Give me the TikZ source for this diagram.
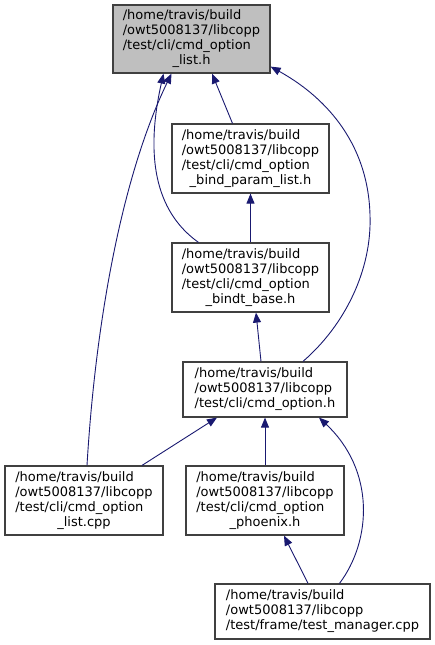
\documentclass[tikz,border=0pt]{standalone}
\usepackage{fontspec}
\setmainfont{DejaVu Sans}
\usepackage{tikz}
\usetikzlibrary{arrows.meta, calc}
\definecolor{edgeblue}{HTML}{191970}
\definecolor{boxline}{HTML}{404040}
\definecolor{focusfill}{HTML}{BFBFBF}
\newcommand{\lastrow}[1]{\multicolumn{1}{@{}c@{}}{#1}}
\newcommand{\fileset}[1]{\begin{tabular}{@{}l@{}}#1\end{tabular}}

\begin{document}
\begin{tikzpicture}[
  x=1pt, y=-1pt,
  file/.style={rectangle, draw=boxline, line width=1.2pt, fill=white,
    inner sep=0pt, minimum width=157pt, minimum height=69pt,
    font=\fontsize{13}{15}\selectfont},
  focus/.style={file, fill=focusfill},
  incl/.style={draw=edgeblue, line width=0.9pt,
    -{Triangle[length=10pt, width=8pt]}},
]
  \useasboundingbox (0,0) rectangle (435,645);

  % Top file
  \node[focus, minimum height=68pt] (list) at (191.5,39)
    {\fileset{/home/travis/build\\/owt5008137/libcopp\\/test/cli/cmd\_option\\\lastrow{\_list.h}}};

  % Middle chain
  \node[file] (param) at (250.5,158.5)
    {\fileset{/home/travis/build\\/owt5008137/libcopp\\/test/cli/cmd\_option\\\lastrow{\_bind\_param\_list.h}}};
  \node[file] (base) at (250.5,277.5)
    {\fileset{/home/travis/build\\/owt5008137/libcopp\\/test/cli/cmd\_option\\\lastrow{\_bindt\_base.h}}};
  \node[file, minimum width=164pt, minimum height=55pt] (option) at (265,389.5)
    {\fileset{/home/travis/build\\/owt5008137/libcopp\\/test/cli/cmd\_option.h}};

  % Lower files
  \node[file, minimum width=158pt] (listcpp) at (84,500.5)
    {\fileset{/home/travis/build\\/owt5008137/libcopp\\/test/cli/cmd\_option\\\lastrow{\_list.cpp}}};
  \node[file, minimum width=158pt] (phoenix) at (265,500.5)
    {\fileset{/home/travis/build\\/owt5008137/libcopp\\/test/cli/cmd\_option\\\lastrow{\_phoenix.h}}};
  \node[file, minimum width=215pt, minimum height=55pt] (manager) at (322.5,611.5)
    {\fileset{/home/travis/build\\/owt5008137/libcopp\\/test/frame/test\_manager.cpp}};

  % Includes of the top file
  \draw[incl] ($(param.north)+(-18,0)$) -- ($(list.south)+(20.5,0)$);
  \draw[incl] ($(base.north)+(-52,0)$) .. controls (160,215) and (143,165) .. ($(list.south)+(-28,0)$);
  \draw[incl] ($(listcpp.north)+(3,0)$) .. controls (95,330) and (120,180) .. ($(list.south)+(-20,0)$);
  \draw[incl] ($(option.north)+(38,0)$) .. controls (345,325) and (372,270) .. (370,215)
    .. controls (368,140) and (322,95) .. ($(list.south east)+(0,-7)$);

  % Chain
  \draw[incl] (base) -- (param);
  \draw[incl] ($(option.north)+(-4,0)$) -- ($(base.south)+(5.5,0)$);

  % Includes of cmd_option.h
  \draw[incl] ($(listcpp.north)+(58,0)$) -- ($(option.south)+(-48,0)$);
  \draw[incl] (phoenix) -- (option);
  \draw[incl] ($(manager.north)+(17,0)$) .. controls (372,540) and (375,470) .. ($(option.south)+(54,0)$);
  \draw[incl] ($(manager.north)+(-14.5,0)$) -- ($(phoenix.south)+(19,0)$);
\end{tikzpicture}
\end{document}
